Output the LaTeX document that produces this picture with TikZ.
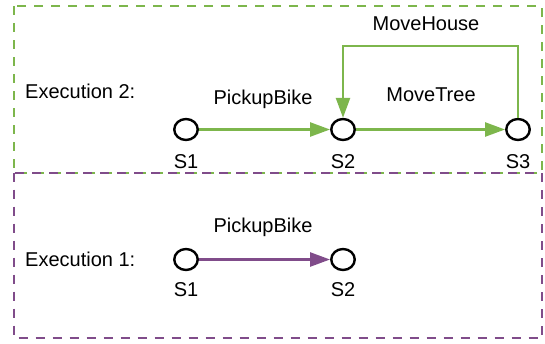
\documentclass[tikz,border=0pt]{standalone}
\usepackage{fontspec}
\setmainfont{Liberation Sans}
\usetikzlibrary{arrows.meta,shapes.geometric}
\definecolor{exgreen}{RGB}{125,182,76}
\definecolor{expurple}{RGB}{128,76,138}
\tikzset{
  state/.style={ellipse,draw=black,line width=2.4pt,minimum width=23.5pt,minimum height=21pt,inner sep=0pt},
  lbl/.style={anchor=base,inner sep=0pt,font=\fontsize{20}{24}\selectfont},
  trans/.style={line width=2.5pt,-{Triangle[length=20pt,width=14pt]}},
  frame/.style={line width=2pt,dash pattern=on 9pt off 8pt}
}
\begin{document}
\begin{tikzpicture}[x=1pt,y=-1pt]
\useasboundingbox (0,0) rectangle (545,343);
% frames
\draw[frame,exgreen] (14,6) rectangle (542,172.5);
\draw[frame,expurple] (14,172.5) rectangle (542,338);
% execution 2
\node[lbl,anchor=base west] (e2) at (25,98) {Execution 2:};
\node[state] (a1) at (186,129.5) {};
\node[state] (a2) at (343,129.5) {};
\node[state] (a3) at (518,129.5) {};
\node[lbl] (a1l) at (186,168) {S1};
\node[lbl] (a2l) at (343,168) {S2};
\node[lbl] (a3l) at (518,168) {S3};
\node[lbl] (pb2) at (263,104) {PickupBike};
\node[lbl] (mt) at (431,101) {MoveTree};
\node[lbl] (mh) at (426,30) {MoveHouse};
\coordinate (loop) at (430,46);
\draw[trans,exgreen] (a1) -- (a2);
\draw[trans,exgreen] (a2) -- (a3);
\draw[trans,exgreen] (a3.north) |- (loop) -| (a2.north);
% execution 1
\node[lbl,anchor=base west] (e1) at (25,266.5) {Execution 1:};
\node[state] (b1) at (186,259.5) {};
\node[state] (b2) at (343,259.5) {};
\node[lbl] (b1l) at (186,296.5) {S1};
\node[lbl] (b2l) at (343,296.5) {S2};
\node[lbl] (pb1) at (263,232.5) {PickupBike};
\draw[trans,expurple] (b1) -- (b2);
\end{tikzpicture}
\end{document}
